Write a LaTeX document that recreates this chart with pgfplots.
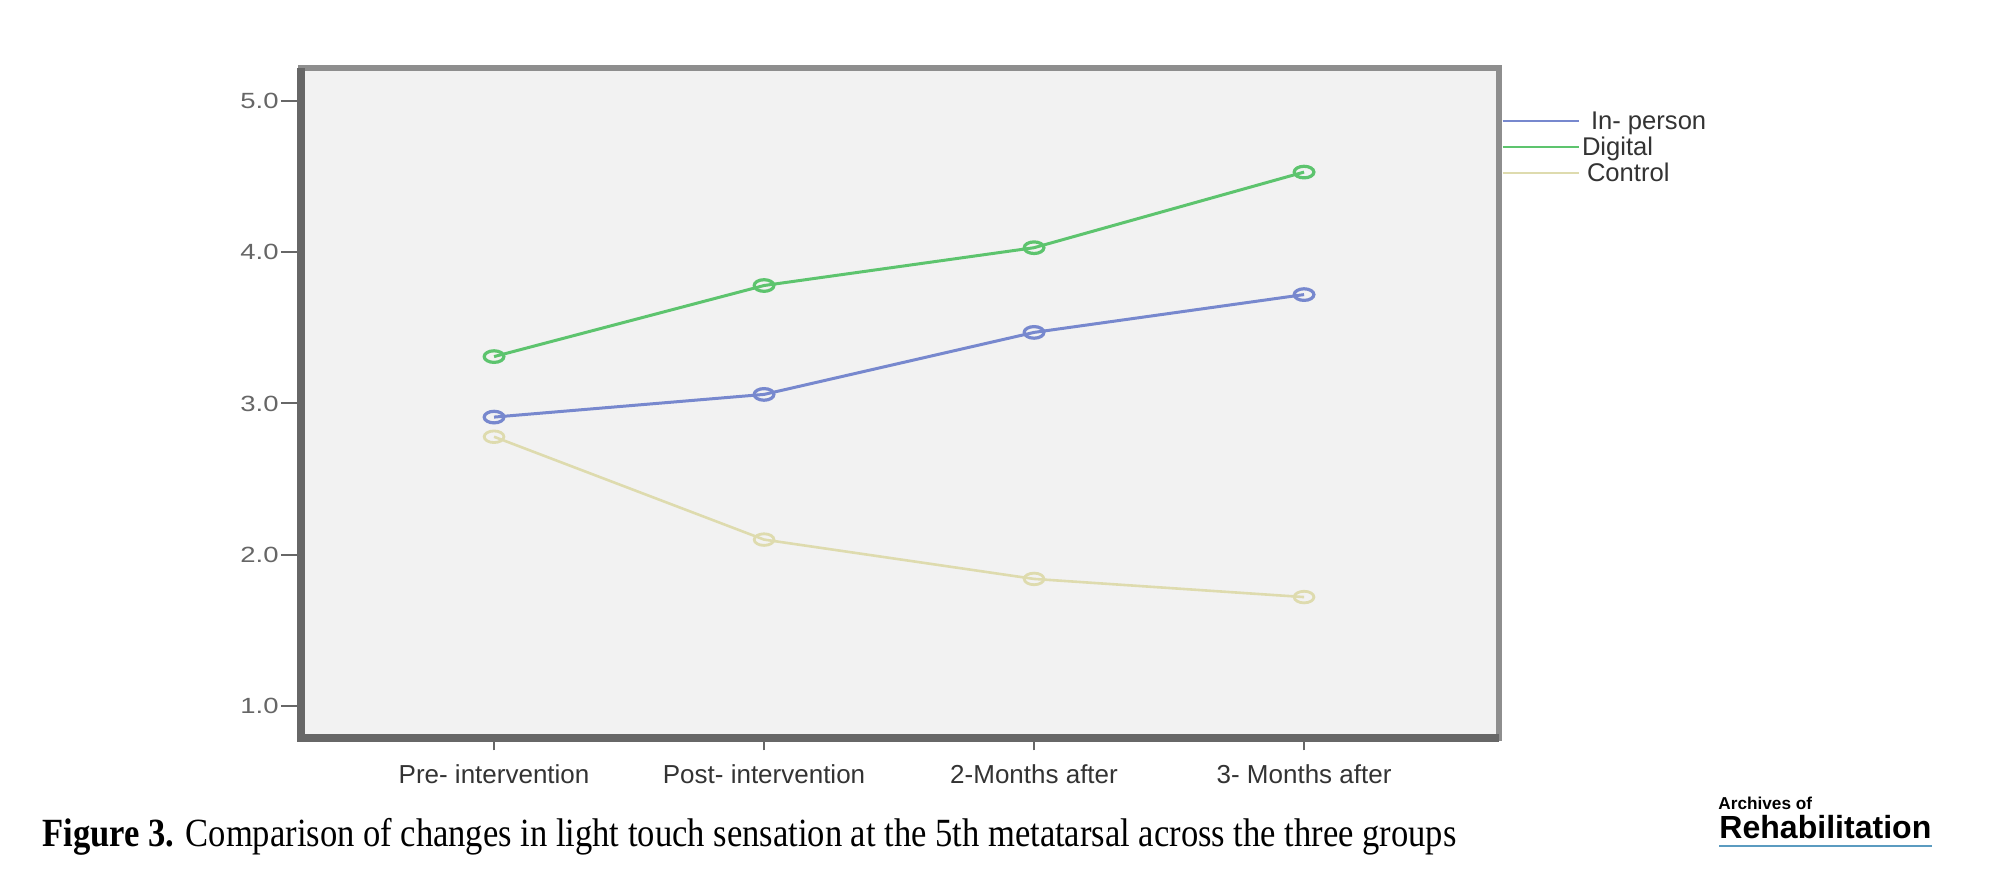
\documentclass[border=0pt]{standalone}
\usepackage{pgfplots}
\pgfplotsset{compat=1.18}
\usepackage{fontspec}
\setmainfont{Liberation Sans}
\newfontfamily\capfont{Liberation Serif}
\usepackage{graphicx}

\definecolor{inperson}{HTML}{7788CE}
\definecolor{digital}{HTML}{5DC46E}
\definecolor{control}{HTML}{DEDBAE}
\definecolor{bgc}{HTML}{F2F2F2}
\definecolor{framec}{HTML}{8E8E8E}
\definecolor{framedark}{HTML}{676767}
\definecolor{txt}{HTML}{333333}
\definecolor{logoline}{HTML}{5B9BC0}

\begin{document}
\begin{tikzpicture}
\path[use as bounding box] (0,0) rectangle (999.5pt,440.5pt);
\begin{axis}[
    at={(150.5pt,71.25pt)}, anchor=south west,
    scale only axis, width=599pt, height=335pt,
    xmin=-0.715, xmax=3.722, ymin=0.785, ymax=5.215,
    clip=false,
    axis background/.style={fill=bgc},
    axis line style={draw=framec, line width=3pt},
    /pgf/number format/assume math mode=true,
    xtick pos=bottom, ytick pos=left,
    xtick={0,1,2,3},
    xticklabels={Pre- intervention, Post- intervention, \raisebox{-2pt}{2-Months after}, 3- Months after},
    ytick={1,2,3,4,5},
    yticklabel={\scalebox{1.25}[1]{\pgfmathprintnumber[fixed,fixed zerofill,precision=1]{\tick}}},
    tick align=outside, major tick length=10pt,
    tick style={color=framedark, line width=1pt},
    xtick style={/pgfplots/major tick length=6pt},
    xticklabel style={font=\fontsize{13pt}{15pt}\selectfont, text=txt},
    xticklabel shift=-0.5pt,
    yticklabel style={font=\fontsize{11pt}{13pt}\selectfont, text=black!60, inner xsep=1pt},
    legend cell align=left,
    legend image code/.code={\draw[#1, line width=1.3pt] (0pt,1.4pt) -- (38pt,1.4pt);},
    legend style={at={(rel axis cs:1,1)}, anchor=north west, xshift=1pt, yshift=-21pt,
        draw=none, fill=none, inner sep=0pt, row sep=0pt,
        font=\fontsize{12.8pt}{14pt}\selectfont, text=txt,
        nodes={inner sep=0pt, text height=9.5pt, text depth=3.5pt},
        /tikz/every odd column/.style={column sep=1pt}},
]
\addplot[inperson, line width=1.5pt, mark=o, mark size=2.9pt, mark options={xscale=1.7, line width=1.6pt}]
    coordinates {(0,2.91) (1,3.06) (2,3.47) (3,3.72)};
\addplot[digital, line width=1.5pt, mark=o, mark size=2.9pt, mark options={xscale=1.7, line width=1.6pt}]
    coordinates {(0,3.31) (1,3.78) (2,4.03) (3,4.53)};
\addplot[control, line width=1.3pt, mark=o, mark size=2.9pt, mark options={xscale=1.7, line width=1.4pt}]
    coordinates {(0,2.78) (1,2.10) (2,1.84) (3,1.72)};
\legend{\hspace{4.5pt}In- person, Digital, \hspace{2.5pt}Control}
\draw[framedark, line width=4pt] (rel axis cs:0,1) -- (rel axis cs:0,0) -- (rel axis cs:1,0);
\end{axis}
\node[anchor=base west, inner sep=0pt] at (21pt,17pt)
    {\resizebox{707pt}{\height}{\capfont\fontsize{20pt}{24pt}\selectfont\textbf{Figure 3.} Comparison of changes in light touch sensation at the 5th metatarsal across the three groups}};
\node[anchor=base west, inner sep=0pt] at (859pt,35.5pt)
    {\fontsize{8.6pt}{10pt}\selectfont\bfseries Archives of};
\node[anchor=base west, inner sep=0pt] at (859.5pt,21pt)
    {\resizebox{106pt}{\height}{\fontsize{16pt}{18pt}\selectfont\bfseries Rehabilitation}};
\draw[logoline, line width=1pt] (859.5pt,17.5pt) -- (966pt,17.5pt);
\end{tikzpicture}
\end{document}
